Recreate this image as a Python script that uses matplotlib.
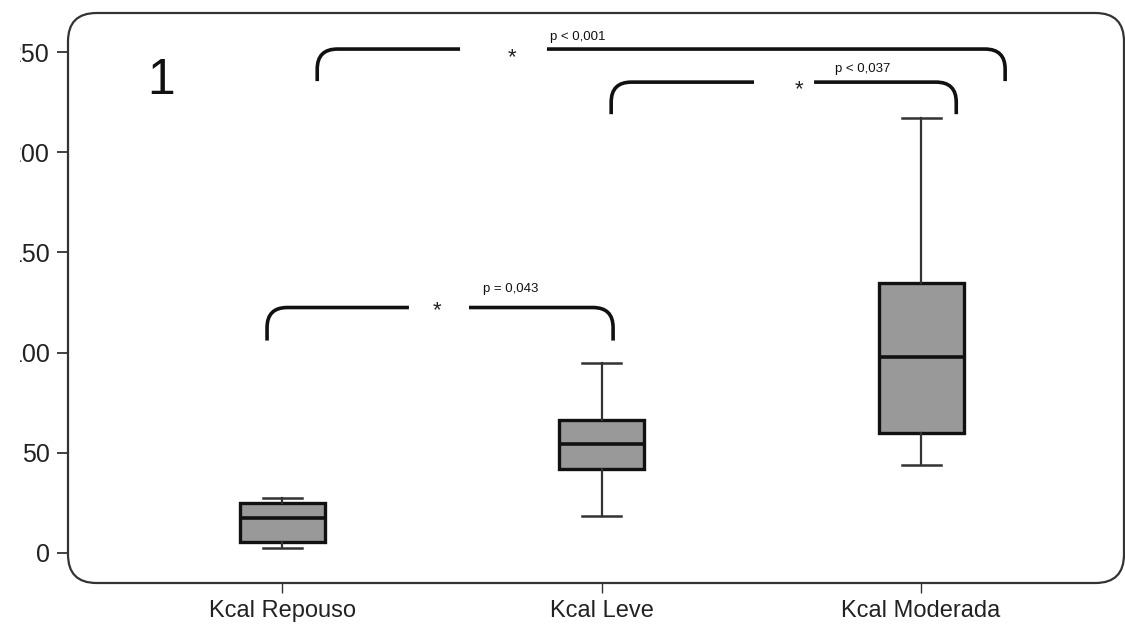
import numpy as np
import matplotlib
matplotlib.use("Agg")
import matplotlib.pyplot as plt
from matplotlib.patches import FancyBboxPatch, PathPatch
from matplotlib.path import Path
from matplotlib.transforms import Bbox, TransformedBbox

# ---- Data ---- #
categories = ["Kcal Repouso", "Kcal Leve", "Kcal Moderada"]
whislo = [2.5, 18.5, 44.0]
q1 = [5.5, 42.0, 60.0]
med = [17.5, 54.5, 98.0]
q3 = [25.0, 66.5, 134.5]
whishi = [27.5, 95.0, 217.0]
yticks = [0, 50, 100, 150, 200, 250]

# brackets: (x left, x right, y top, y bottom, gap left, gap right)
brackets = [
    (0.953, 2.036, 122.5, 106.0, 1.397, 1.585),
    (2.030, 3.110, 235.0, 219.0, 2.477, 2.665),
    (1.110, 3.263, 251.5, 235.5, 1.557, 1.829),
]
stars = [(1.485, 121.0), (2.618, 231.0), (1.720, 247.0)]
pvals = ["p = 0,043", "p < 0,037", "p < 0,001"]
pval_pos = [(1.714, 131.5), (2.818, 241.5), (1.926, 257.5)]

plt.rcParams['font.family'] = ['Liberation Sans', 'DejaVu Sans']

# ---- Figure ---- #
fig = plt.figure(figsize=(11.25, 6.25), dpi=100)
ax = fig.add_axes([68 / 1125, 42 / 625, 1056 / 1125, 570 / 625])

stats = []
for i in range(len(categories)):
    stats.append(dict(med=med[i], q1=q1[i], q3=q3[i],
                      whislo=whislo[i], whishi=whishi[i], fliers=[]))

ax.bxp(stats, positions=[1, 2, 3], widths=0.266, capwidths=0.122,
       patch_artist=True, showfliers=False,
       boxprops=dict(facecolor="#999999", edgecolor="#111111", linewidth=2.4),
       medianprops=dict(color="#111111", linewidth=2.6),
       whiskerprops=dict(color="#333333", linewidth=1.6),
       capprops=dict(color="#333333", linewidth=1.8))

ax.set_xlim(0.33, 3.635)
ax.set_ylim(-15, 269.5)

for s in ax.spines.values():
    s.set_visible(False)

# rounded frame
frame = FancyBboxPatch((0, 0), 1, 1, boxstyle="round,pad=0,rounding_size=0.027",
                       mutation_aspect=1056 / 570, transform=ax.transAxes,
                       facecolor="none", edgecolor="#333333", linewidth=1.6,
                       clip_on=False)
ax.add_patch(frame)

ax.set_yticks(yticks)
ax.set_yticklabels([str(v) for v in yticks])
ax.set_xticks([1, 2, 3])
ax.set_xticklabels(categories)
ax.tick_params(axis="y", direction="out", length=8, width=1.3, pad=5,
               labelsize=18, colors="#333333", labelcolor="#222222")
ax.tick_params(axis="x", direction="out", length=7, width=1.0, pad=5,
               labelsize=17, colors="#333333", labelcolor="#222222")

# left edge of the source image is cropped: cut the labels the same way
crop = TransformedBbox(Bbox([[20 / 1125, 0], [1, 1]]), fig.transFigure)
for lab in ax.get_yticklabels():
    lab.set_clip_box(crop)
    lab.set_clip_on(True)

# significance brackets
rx = 0.063
ry = 10.0
for (x1, x2, yt, yb, gl, gr) in brackets:
    verts = [(x1, yb), (x1, yt - ry), (x1, yt), (x1 + rx, yt), (gl, yt),
             (gr, yt), (x2 - rx, yt), (x2, yt), (x2, yt - ry), (x2, yb)]
    codes = [Path.MOVETO, Path.LINETO, Path.CURVE3, Path.CURVE3, Path.LINETO,
             Path.MOVETO, Path.LINETO, Path.CURVE3, Path.CURVE3, Path.LINETO]
    ax.add_patch(PathPatch(Path(verts, codes), facecolor="none",
                           edgecolor="#111111", linewidth=2.6, clip_on=False))

for (sx, sy) in stars:
    ax.text(sx, sy, "*", ha="center", va="center", fontsize=16, color="#222222")

for txt, (px, py) in zip(pvals, pval_pos):
    ax.text(px, py, txt, ha="center", va="center", fontsize=9.5,
            color="#111111")

ax.text(0.088, 0.88, "1", transform=ax.transAxes, ha="center", va="center",
        fontsize=36, color="#111111")

fig.savefig("out.png", dpi=100)
